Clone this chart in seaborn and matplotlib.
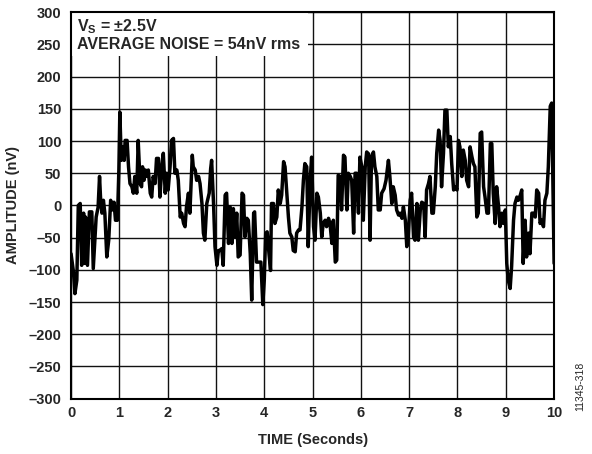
import matplotlib
matplotlib.use("Agg")
import matplotlib.pyplot as plt
import seaborn as sns
import pandas as pd
from matplotlib.patches import Rectangle

# ---- data (time in s, amplitude in nV) ----
time_a = [0.00,0.05,0.08,0.12,0.15,0.19,0.22,0.26,0.28,0.30,0.34,0.38,0.43,0.46,0.52,0.56,0.59,0.61,0.64,0.67,
          0.70,0.74,0.78,0.82,0.86,0.89,0.92,0.96,0.99,1.01,1.04,1.07,1.10,1.12,1.16,1.19,1.22,1.26,1.29,1.32,
          1.36,1.39,1.43,1.46,1.48,1.51,1.54,1.57,1.60,1.64,1.67,1.70,1.74,1.77,1.81,1.84,1.88,1.91,1.95,1.98,
          2.01,2.05,2.08,2.12,2.15,2.19,2.22,2.26,2.29,2.33,2.36,2.39,2.43,2.46,2.51,2.53,2.57,2.60,2.64,2.67,
          2.71,2.74,2.77,2.81,2.86,2.89,2.91,2.95,2.98,3.02,3.05]
noise_a = [-75,-103,-137,-116,0,3,-93,-12,-90,-18,-93,-10,-10,-98,-18,-3,45,13,-12,8,
           -12,-80,-54,8,-7,5,-23,-23,55,145,70,91,70,101,101,60,34,29,19,45,
           19,101,34,29,60,39,55,45,55,19,13,45,34,73,73,13,60,81,19,50,
           24,60,101,104,50,55,39,-18,-12,-28,-33,-2,19,-12,78,60,55,39,45,34,
           3,-43,-54,3,19,57,70,3,-64,-93,-70]

time_b = [3.08,3.12,3.15,3.19,3.22,3.26,3.29,3.33,3.36,3.40,3.43,3.46,3.50,3.54,3.57,3.60,3.64,3.67,3.71,3.74,
          3.78,3.80,3.84,3.88,3.93,3.97,4.00,4.03,4.06,4.10,4.13,4.15,4.19,4.22,4.26,4.29,4.33,4.36,4.40,4.43,
          4.47,4.50,4.53,4.57,4.60,4.64,4.67,4.71,4.74,4.78,4.81,4.84,4.88,4.91,4.95,4.98,5.02,5.05,5.09,5.12,
          5.16,5.19,5.22,5.26,5.29,5.33,5.36,5.40,5.43,5.47,5.50,5.53,5.57,5.60,5.64,5.67,5.71,5.74,5.78,5.81,
          5.85,5.88,5.91,5.95,5.98,6.02,6.05,6.09,6.12,6.16,6.19,6.22,6.26,6.29,6.33,6.36]
noise_b = [-70,-67,-93,16,19,-59,-2,-59,-5,-49,-12,-80,-77,19,16,-49,-20,-23,-75,-147,
           -12,-10,-88,-88,-88,-154,-116,-43,-41,-77,-101,3,3,-28,-18,24,3,16,68,60,
           16,-18,-43,-49,-70,-72,-43,-38,-38,-2,39,65,60,-64,39,75,-33,-54,19,13,
           -12,-49,-28,-23,-33,-20,-28,-59,-23,-88,-85,47,45,-7,78,75,-7,50,45,39,
           -43,50,50,-12,75,60,-23,60,83,80,-54,75,83,60,45,-7]

time_c = [6.40,6.43,6.48,6.52,6.57,6.60,6.64,6.67,6.71,6.74,6.78,6.81,6.85,6.88,6.92,6.95,6.98,7.02,7.05,7.09,
          7.12,7.16,7.19,7.23,7.26,7.30,7.33,7.36,7.40,7.43,7.47,7.50,7.54,7.57,7.61,7.64,7.67,7.71,7.74,7.78,
          7.81,7.85,7.88,7.92,7.95,7.99,8.02,8.05,8.09,8.12,8.16,8.19,8.23,8.26,8.30,8.33,8.36,8.40,8.43,8.47,
          8.50,8.54,8.57,8.61,8.64,8.68,8.71,8.74,8.78,8.81,8.85,8.88,8.92,8.95,8.99,9.02,9.05,9.09,9.12,9.16,
          9.19,9.23,9.26,9.30,9.33,9.36,9.40,9.43,9.47,9.50,9.54,9.57,9.61,9.64,9.68,9.71,9.74,9.78,9.81,9.85,
          9.88,9.92,9.95,10.00]
noise_c = [-7,19,26,39,70,45,3,29,16,-7,-15,-12,-20,-2,-23,-64,-49,8,19,-49,
           -54,3,-54,-7,5,3,-49,24,34,45,-12,-12,29,81,117,101,29,81,148,148,
           91,107,65,24,29,24,101,91,45,86,70,39,29,91,75,65,60,-18,-12,112,
           114,29,13,-12,-12,96,96,19,-28,29,-2,-33,-12,-28,-7,-90,-116,-129,-95,-23,
           3,13,8,16,24,-90,-23,-80,-43,-75,-12,-12,-18,24,19,-28,-23,-33,8,19,
           60,154,159,-90]

x_ticks = list(range(0, 11))
y_ticks = list(range(-300, 301, 50))
x_label = "TIME (Seconds)"
y_label = "AMPLITUDE (nV)"
note_line1 = r"V$_\mathregular{S}$ = ±2.5V"
note_line2 = "AVERAGE NOISE = 54nV rms"
fig_id = "11345-318"

df = pd.DataFrame({"t": time_a + time_b + time_c, "v": noise_a + noise_b + noise_c})

sns.set_style("white")
plt.rcParams["font.family"] = ["Liberation Sans", "DejaVu Sans"]
plt.rcParams["mathtext.fontset"] = "custom"
plt.rcParams["mathtext.rm"] = "Liberation Sans:bold"
plt.rcParams["mathtext.default"] = "rm"

fig = plt.figure(figsize=(5.92, 4.54), dpi=100)
ax = fig.add_axes([0.12, 0.122, 0.816, 0.851])

sns.lineplot(data=df, x="t", y="v", ax=ax, color="black", linewidth=2.5,
             estimator=None, sort=False, zorder=3)

ax.set_xlim(0, 10)
ax.set_ylim(-300, 300)
ax.set_xticks(x_ticks)
ax.set_yticks(y_ticks)
ax.set_xticklabels([str(v) for v in x_ticks])
ax.set_yticklabels([str(v).replace("-", "\u2013") for v in y_ticks])
ax.grid(True, color="#111111", linewidth=1.0)
ax.set_axisbelow(True)
ax.tick_params(axis="y", length=0, labelsize=10.5, pad=7)
ax.tick_params(axis="x", length=0, labelsize=10.5, pad=5)
for lab in ax.get_xticklabels() + ax.get_yticklabels():
    lab.set_fontweight("bold")
for s in ax.spines.values():
    s.set_color("black")
    s.set_linewidth(1.5)
    s.set_zorder(5)

ax.set_xlabel(x_label, fontsize=10.5, fontweight="bold", labelpad=10)
ax.set_ylabel(y_label, fontsize=10.5, fontweight="bold", labelpad=6)

ax.add_patch(Rectangle((0, 0.888), 0.49, 0.112, transform=ax.transAxes,
                       facecolor="white", edgecolor="none", zorder=2))
ax.text(0.012, 0.962, note_line1, transform=ax.transAxes, fontsize=11.5,
        fontweight="bold", va="center", ha="left", zorder=4)
ax.text(0.012, 0.917, note_line2, transform=ax.transAxes, fontsize=11.5,
        fontweight="bold", va="center", ha="left", zorder=4)

fig.text(0.98, 0.15, fig_id, rotation=90, fontsize=7.5, ha="center", va="center")

fig.savefig("out.png", dpi=100)
